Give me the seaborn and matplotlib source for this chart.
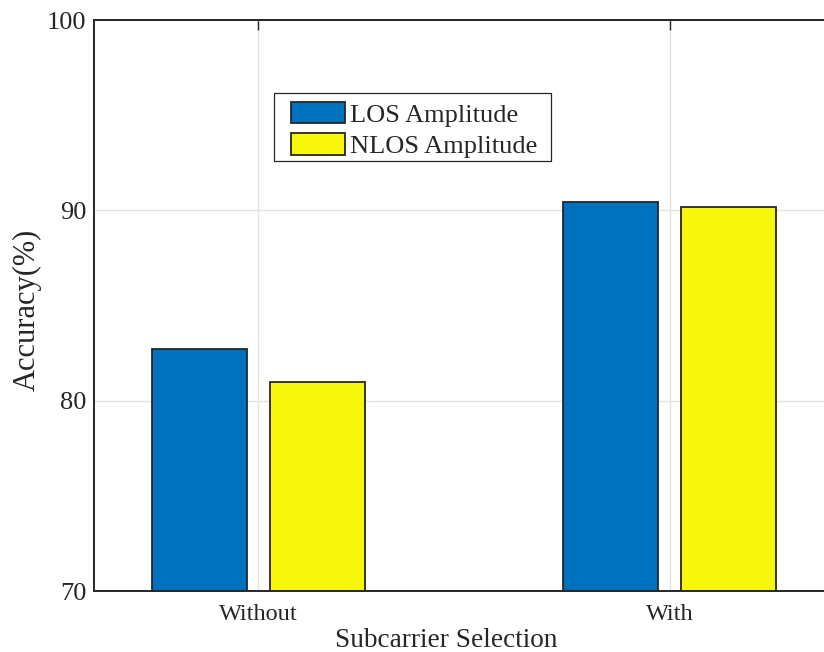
import matplotlib
matplotlib.use("Agg")
import matplotlib.pyplot as plt
from matplotlib.patches import Rectangle
import seaborn as sns
import pandas as pd

# Classification accuracy with and without subcarrier selection
groups = ["Without", "With"]
los_amplitude = [82.73, 90.46]
nlos_amplitude = [80.97, 90.20]
series_names = ["LOS Amplitude", "NLOS Amplitude"]
y_ticks = [70, 80, 90, 100]

df = pd.DataFrame({
    "Subcarrier Selection": groups * 2,
    "Accuracy": los_amplitude + nlos_amplitude,
    "Series": [series_names[0]] * len(groups) + [series_names[1]] * len(groups),
})

sns.set_style("white")
plt.rcParams["font.family"] = ["Liberation Serif", "DejaVu Serif"]
plt.rcParams["mathtext.fontset"] = "stix"

W, H = 824, 652
dark = "#262626"
fig = plt.figure(figsize=(W / 100, H / 100), dpi=100)
ax = fig.add_axes([94 / W, 1 - 591 / H, 740 / W, 571 / H])

sns.barplot(
    data=df, x="Subcarrier Selection", y="Accuracy", hue="Series",
    hue_order=series_names, palette=["#0072BD", "#F6F70B"],
    width=0.573, gap=0.194, saturation=1,
    edgecolor=dark, linewidth=1.3, ax=ax, legend=True,
)

ax.set_ylim(70, 100)
ax.set_xlim(-0.4, 1.4)
ax.set_yticks(y_ticks)
ax.set_yticklabels([str(t) for t in y_ticks])

ax.set_axisbelow(True)
ax.grid(True, color="#e3e3e3", linewidth=1.0)

for side in ["left", "bottom", "top", "right"]:
    ax.spines[side].set_visible(True)
    ax.spines[side].set_color(dark)
    ax.spines[side].set_linewidth(1.4)

ax.tick_params(axis="both", direction="in", length=7, width=1.0, color=dark,
               top=True, right=True, labelcolor=dark)
ax.tick_params(axis="y", labelsize=19, pad=5.5)
ax.tick_params(axis="x", labelsize=17.5, pad=9.5)

ax.set_xlabel("Subcarrier Selection", fontsize=19.6, color=dark, labelpad=2)
ax.set_ylabel("Accuracy(%)", fontsize=22, color=dark, labelpad=4)
ax.xaxis.label.set_x(0.4757)
ax.yaxis.label.set_y(0.492)

# Legend entries without their own frame; a rectangular box is drawn behind them
leg = ax.legend(
    loc="upper left", bbox_to_anchor=(291 / W, 1 - 102 / H),
    bbox_transform=fig.transFigure, borderaxespad=0, borderpad=0,
    fontsize=19, frameon=False, handlelength=2.05, handleheight=0.87,
    handletextpad=0.2, labelspacing=0.25,
)
for t in leg.get_texts():
    t.set_color(dark)
leg.set_zorder(6)

box = Rectangle((274 / W, 1 - 161 / H), 277 / W, 68 / H, transform=fig.transFigure,
                facecolor="white", edgecolor=dark, linewidth=0.9, zorder=5.5)
ax.add_artist(box)

fig.savefig("out.png", dpi=100)
